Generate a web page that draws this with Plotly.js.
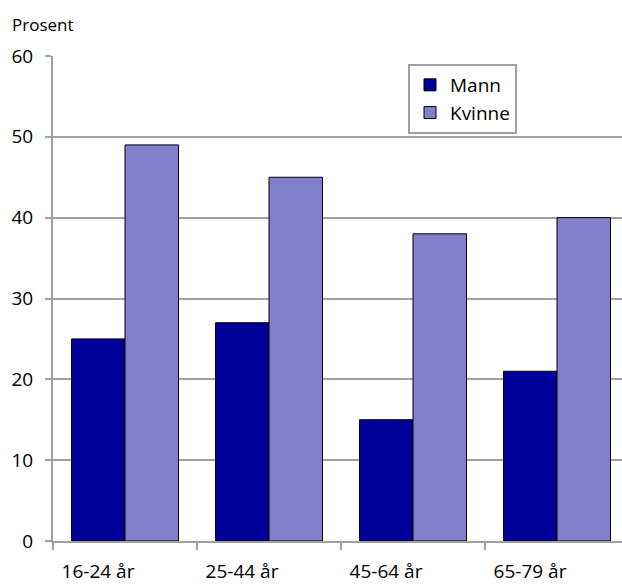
<!DOCTYPE html>
<html>
<head>
<meta charset="utf-8">
<script src="https://cdn.plot.ly/plotly-3.0.1.min.js"></script>
<style>html,body{margin:0;padding:0;overflow:hidden;background:#fff;width:622px;height:585px}</style>
</head>
<body>
<div id="chart"></div>
<script>
var categories = ["16-24 år", "25-44 år", "45-64 år", "65-79 år"];
var mann = [25, 27, 15, 21];
var kvinne = [49, 45, 38, 40];
var yTicks = [0, 10, 20, 30, 40, 50, 60];

var font = "Open Sans, Noto Sans, sans-serif";
var traces = [
  {type: "bar", name: "Mann", x: categories, y: mann,
   marker: {color: "#000099", line: {color: "#000000", width: 1}}},
  {type: "bar", name: "Kvinne", x: categories, y: kvinne,
   marker: {color: "#8080cc", line: {color: "#000000", width: 1}}}
];
var layout = {
  width: 630, height: 585,
  margin: {l: 53, r: 1, t: 56, b: 44},
  paper_bgcolor: "#fff", plot_bgcolor: "#fff",
  font: {family: font, size: 19, color: "#000"},
  barmode: "group", bargap: 0.257, bargroupgap: 0,
  showlegend: true,
  legend: {bordercolor: "#a0a0a0", borderwidth: 2, bgcolor: "#fff",
           font: {family: font, size: 19}, tracegroupgap: 0, itemwidth: 30},
  xaxis: {type: "category", showgrid: false, showline: true, linecolor: "#a0a0a0", linewidth: 2,
          ticks: "outside", ticklen: 7, tickcolor: "#a0a0a0", tickwidth: 2, tickson: "boundaries",
          ticklabelshift: -27, ticklabelstandoff: 12, tickfont: {size: 19}},
  yaxis: {range: [0, 60], tickvals: yTicks, showgrid: true, gridcolor: "#a0a0a0", gridwidth: 2,
          showline: true, linecolor: "#a0a0a0", linewidth: 2, zeroline: false,
          ticks: "outside", ticklen: 6, tickcolor: "#a0a0a0", tickwidth: 2,
          ticklabelstandoff: 8, tickfont: {size: 19}},
  annotations: [{text: "Prosent", xref: "paper", yref: "paper", xanchor: "left", yanchor: "bottom",
                 showarrow: false, font: {size: 17}}]
};
// legend position in paper coords from pixel positions
var pw = 630 - 53 - 1, ph = 585 - 56 - 44;
layout.legend.x = (408 - 53) / pw;
layout.legend.y = 1 - (64 - 56) / ph;
layout.legend.xanchor = "left"; layout.legend.yanchor = "top";
layout.annotations[0].x = (10 - 53) / pw;
layout.annotations[0].y = 1 + (56 - 38) / ph;
Plotly.newPlot("chart", traces, layout, {displayModeBar: false, staticPlot: true});
</script>
</body>
</html>
